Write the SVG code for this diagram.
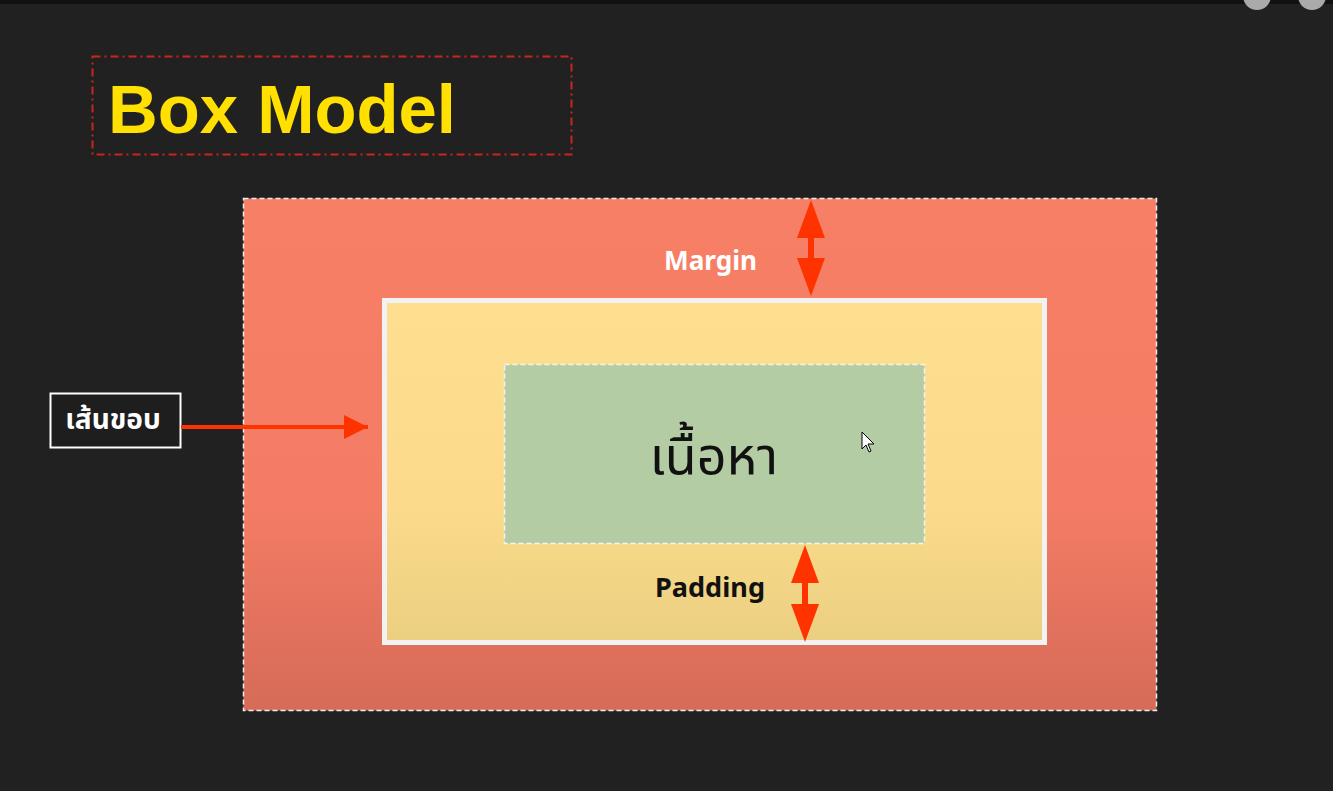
<svg xmlns="http://www.w3.org/2000/svg" width="1333" height="791" viewBox="0 0 1333 791">
<style>
.lbl{font-family:"Noto Sans","Liberation Sans",sans-serif;font-weight:bold;}
.th{font-family:"Noto Sans","Noto Sans Thai","Liberation Sans",sans-serif;}
</style>
<defs>
<linearGradient id="gM" x1="0" y1="0" x2="0" y2="1">
<stop offset="0" stop-color="#f77f66"/><stop offset="0.6" stop-color="#f47c64"/><stop offset="1" stop-color="#d56b58"/>
</linearGradient>
<linearGradient id="gB" x1="0" y1="0" x2="0" y2="1">
<stop offset="0" stop-color="#fedf8f"/><stop offset="0.6" stop-color="#fbdb8b"/><stop offset="1" stop-color="#ebcf81"/>
</linearGradient>
<marker id="ah" viewBox="0 0 10 10" refX="10" refY="5" markerWidth="7.5" markerHeight="6" orient="auto" markerUnits="strokeWidth">
<path d="M0,0 L10,5 L0,10 Z" fill="#ff3300"/>
</marker>
</defs>
<rect width="1333" height="791" fill="#212121"/>
<rect width="1333" height="4" fill="#111"/>
<circle cx="1257" cy="-4" r="14" fill="#aaa"/>
<circle cx="1312" cy="-4" r="14" fill="#aaa"/>

<g id="title">
<rect x="92.5" y="56.5" width="479" height="98" fill="none" stroke="#c9261b" stroke-width="2" stroke-dasharray="8,4,2,4"/>
<text x="108" y="133" font-family="'Liberation Sans',sans-serif" font-weight="bold" font-size="68" fill="#ffe000" textLength="348" lengthAdjust="spacingAndGlyphs">Box Model</text>
</g>

<g id="margin">
<rect x="243.5" y="198.5" width="913" height="512" fill="url(#gM)" stroke="#eeeeee" stroke-width="1.5" stroke-dasharray="5,3"/>
<text class="lbl" x="710.5" y="270" font-size="26" fill="#ffffff" text-anchor="middle" textLength="93" lengthAdjust="spacingAndGlyphs">Margin</text>
</g>

<g id="border">
<rect x="384.5" y="300.5" width="660" height="342" fill="url(#gB)" stroke="#f2f2f2" stroke-width="5"/>
<text class="lbl" x="710" y="597" font-size="26" fill="#111111" text-anchor="middle" textLength="110" lengthAdjust="spacingAndGlyphs">Padding</text>
</g>

<g id="content">
<rect x="504.5" y="364.5" width="420" height="179" fill="#b3cca4" stroke="#f4f4f4" stroke-width="1.5" stroke-dasharray="5,3"/>
<text class="th" x="714" y="474" font-size="52" fill="#111111" text-anchor="middle">เนื้อหา</text>
</g>

<g id="border-label">
<rect x="50.5" y="393.5" width="130" height="54" fill="#1e1e1e" stroke="#ffffff" stroke-width="2"/>
<text class="th" x="113" y="429" font-size="28" font-weight="bold" fill="#ffffff" text-anchor="middle">เส้นขอบ</text>
</g>

<g id="connectors">
<line x1="181" y1="427" x2="368" y2="427" stroke="#ff3300" stroke-width="4" marker-end="url(#ah)"/>
<path d="M811,200 L825,238 L814,238 L814,258 L825,258 L811,296 L797,258 L808,258 L808,238 L797,238 Z" fill="#ff3300"/>
<path d="M805,545 L819,583 L808,583 L808,604 L819,604 L805,642 L791,604 L802,604 L802,583 L791,583 Z" fill="#ff3300"/>
</g>

<path d="M862,432 L862,449 L866,445 L869,452 L871,451 L868,444 L874,444 Z" fill="#ffffff" stroke="#000" stroke-width="1"/>
</svg>
